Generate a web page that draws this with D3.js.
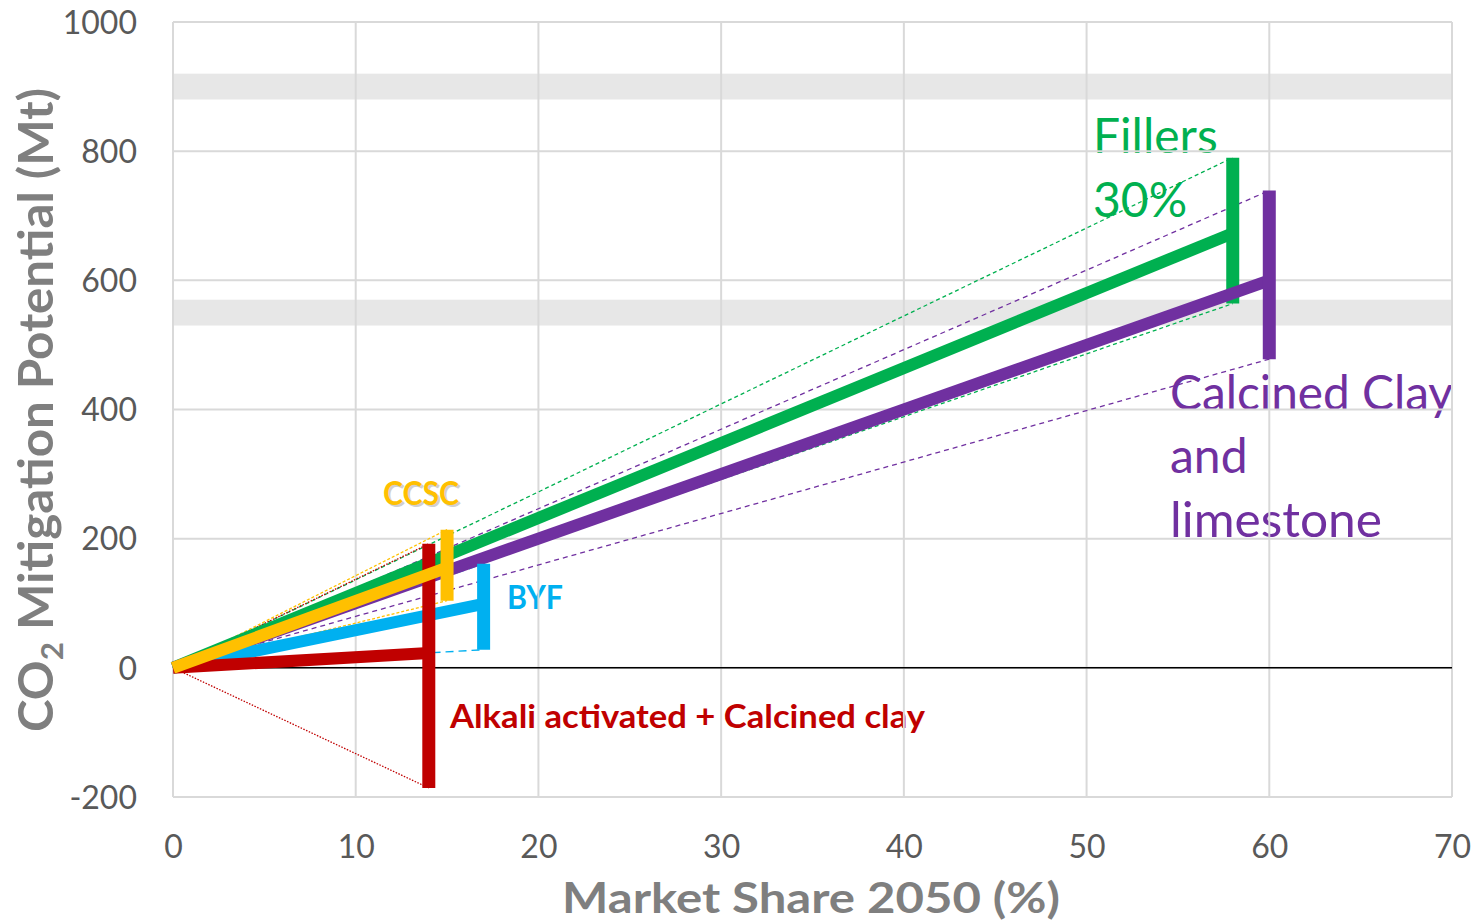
<!DOCTYPE html>
<html>
<head>
<meta charset="utf-8">
<script src="https://cdn.jsdelivr.net/npm/d3@7"></script>
<style>
  html, body { margin: 0; padding: 0; background: #ffffff; }
  svg { display: block; font-family: Lato, "Noto Sans", sans-serif; }
</style>
</head>
<body>
<svg id="chart" width="1475" height="924"></svg>
<script>
// ---- data ----
const categories = ["Fillers 30%", "Calcined Clay and limestone", "CCSC", "BYF", "Alkali activated + Calcined clay"];
const marketShare = [58, 60, 15, 17, 14];
const mitigation = [673, 600, 155, 99, 23];
const mitigationLow = [564, 478, 104, 28, -186];
const mitigationHigh = [790, 739, 214, 161, 192];
const xTicks = [0, 10, 20, 30, 40, 50, 60, 70];
const yTicks = [-200, 0, 200, 400, 600, 800, 1000];
const bandLow = [880, 530];
const bandHigh = [920, 570];

// ---- styles ----
const colors = ["#00B050", "#7030A0", "#FFC000", "#00B0F0", "#C00000"];
const dashes = ["4,3", "5,4", "3,2", "8,5", "1.5,1.5"];
const drawOrder = [0, 1, 3, 4, 2];

const svg = d3.select("#chart");
const L = 173, R = 1452, T = 22, B = 797;
const x = d3.scaleLinear().domain([0, 70]).range([L, R]);
const y = d3.scaleLinear().domain([-200, 1000]).range([B, T]);

// bands
svg.append("g").selectAll("rect").data(bandLow).join("rect")
  .attr("x", L).attr("width", R - L)
  .attr("y", (d, i) => y(bandHigh[i]))
  .attr("height", (d, i) => y(d) - y(bandHigh[i]))
  .attr("fill", "#E7E7E7");

// labels (behind gridlines as in original)
const lab = svg.append("g");
lab.append("text").attr("x", 1093).attr("y", 153).attr("font-size", 48).attr("fill", colors[0]).text("Fillers");
lab.append("text").attr("x", 1093).attr("y", 217).attr("font-size", 48).attr("fill", colors[0]).text("30%");
lab.append("text").attr("x", 1170).attr("y", 410).attr("font-size", 48).attr("fill", colors[1])
  .attr("textLength", 283).attr("lengthAdjust", "spacingAndGlyphs").text("Calcined Clay");
lab.append("text").attr("x", 1170).attr("y", 473).attr("font-size", 48).attr("fill", colors[1]).text("and");
lab.append("text").attr("x", 1170).attr("y", 537).attr("font-size", 48).attr("fill", colors[1])
  .attr("textLength", 212).attr("lengthAdjust", "spacingAndGlyphs").text("limestone");
lab.append("text").attr("x", 385).attr("y", 507).attr("font-size", 33).attr("font-weight", "bold")
  .attr("fill", "#999").attr("opacity", 0.45).attr("textLength", 76).attr("lengthAdjust", "spacingAndGlyphs").text("CCSC");
lab.append("text").attr("x", 383).attr("y", 505).attr("font-size", 33).attr("font-weight", "bold")
  .attr("fill", colors[2]).attr("textLength", 76).attr("lengthAdjust", "spacingAndGlyphs").text("CCSC");
lab.append("text").attr("x", 507).attr("y", 609).attr("font-size", 32).attr("font-weight", "bold")
  .attr("fill", colors[3]).attr("textLength", 56).attr("lengthAdjust", "spacingAndGlyphs").text("BYF");
lab.append("text").attr("x", 450).attr("y", 728).attr("font-size", 33).attr("font-weight", "bold")
  .attr("fill", colors[4]).attr("textLength", 475).attr("lengthAdjust", "spacingAndGlyphs").text("Alkali activated + Calcined clay");

// gridlines
const grid = svg.append("g").attr("stroke", "#D9D9D9").attr("stroke-width", 2);
grid.selectAll("line.v").data(xTicks).join("line").attr("class", "v")
  .attr("x1", d => x(d)).attr("x2", d => x(d)).attr("y1", T).attr("y2", B);
grid.selectAll("line.h").data(yTicks).join("line").attr("class", "h")
  .attr("x1", L).attr("x2", R).attr("y1", d => y(d)).attr("y2", d => y(d));

// zero line
svg.append("line").attr("x1", L).attr("x2", R).attr("y1", y(0)).attr("y2", y(0))
  .attr("stroke", "#000").attr("stroke-width", 1.5);

// axes tick labels
const fmt = d => String(d);
const xAxis = d3.axisBottom(x).tickValues(xTicks).tickFormat(fmt).tickSize(0).tickPadding(0);
const gx = svg.append("g").attr("transform", `translate(0,${B})`).call(xAxis);
gx.select(".domain").remove();
gx.selectAll("text").attr("font-size", 32).attr("fill", "#595959").attr("font-family", "Lato, sans-serif")
  .attr("dy", null).attr("y", 61);

const yAxis = d3.axisLeft(y).tickValues(yTicks).tickFormat(fmt).tickSize(0).tickPadding(0);
const gy = svg.append("g").attr("transform", `translate(${L},0)`).call(yAxis);
gy.select(".domain").remove();
gy.selectAll("text").attr("font-size", 32).attr("fill", "#595959").attr("font-family", "Lato, sans-serif")
  .attr("x", -36).attr("dy", "0.35em");

// dashed range lines
const dash = svg.append("g").attr("fill", "none");
drawOrder.forEach(i => {
  [mitigationHigh[i], mitigationLow[i]].forEach(v => {
    dash.append("line")
      .attr("x1", x(0)).attr("y1", y(0)).attr("x2", x(marketShare[i])).attr("y2", y(v))
      .attr("stroke", colors[i]).attr("stroke-width", 1.3).attr("stroke-dasharray", dashes[i]);
  });
});

// main lines and range bars
const main = svg.append("g");
drawOrder.forEach(i => {
  main.append("line")
    .attr("x1", x(0)).attr("y1", y(0)).attr("x2", x(marketShare[i])).attr("y2", y(mitigation[i]))
    .attr("stroke", colors[i]).attr("stroke-width", 12);
  main.append("line")
    .attr("x1", x(marketShare[i])).attr("x2", x(marketShare[i]))
    .attr("y1", y(mitigationHigh[i])).attr("y2", y(mitigationLow[i]))
    .attr("stroke", colors[i]).attr("stroke-width", 13);
});

// axis titles
svg.append("text").attr("x", 811).attr("y", 913).attr("text-anchor", "middle")
  .attr("font-size", 42).attr("font-weight", "bold").attr("fill", "#7F7F7F")
  .attr("textLength", 498).attr("lengthAdjust", "spacingAndGlyphs")
  .text("Market Share 2050 (%)");

const yt = svg.append("text").attr("transform", "translate(53,410) rotate(-90)")
  .attr("text-anchor", "middle").attr("font-size", 47).attr("font-weight", "bold").attr("fill", "#7F7F7F")
  .attr("textLength", 644).attr("lengthAdjust", "spacingAndGlyphs");
yt.append("tspan").text("CO");
yt.append("tspan").attr("font-size", 30).attr("dy", 10).text("2");
yt.append("tspan").attr("dy", -10).text(" Mitigation Potential (Mt)");
</script>
</body>
</html>
